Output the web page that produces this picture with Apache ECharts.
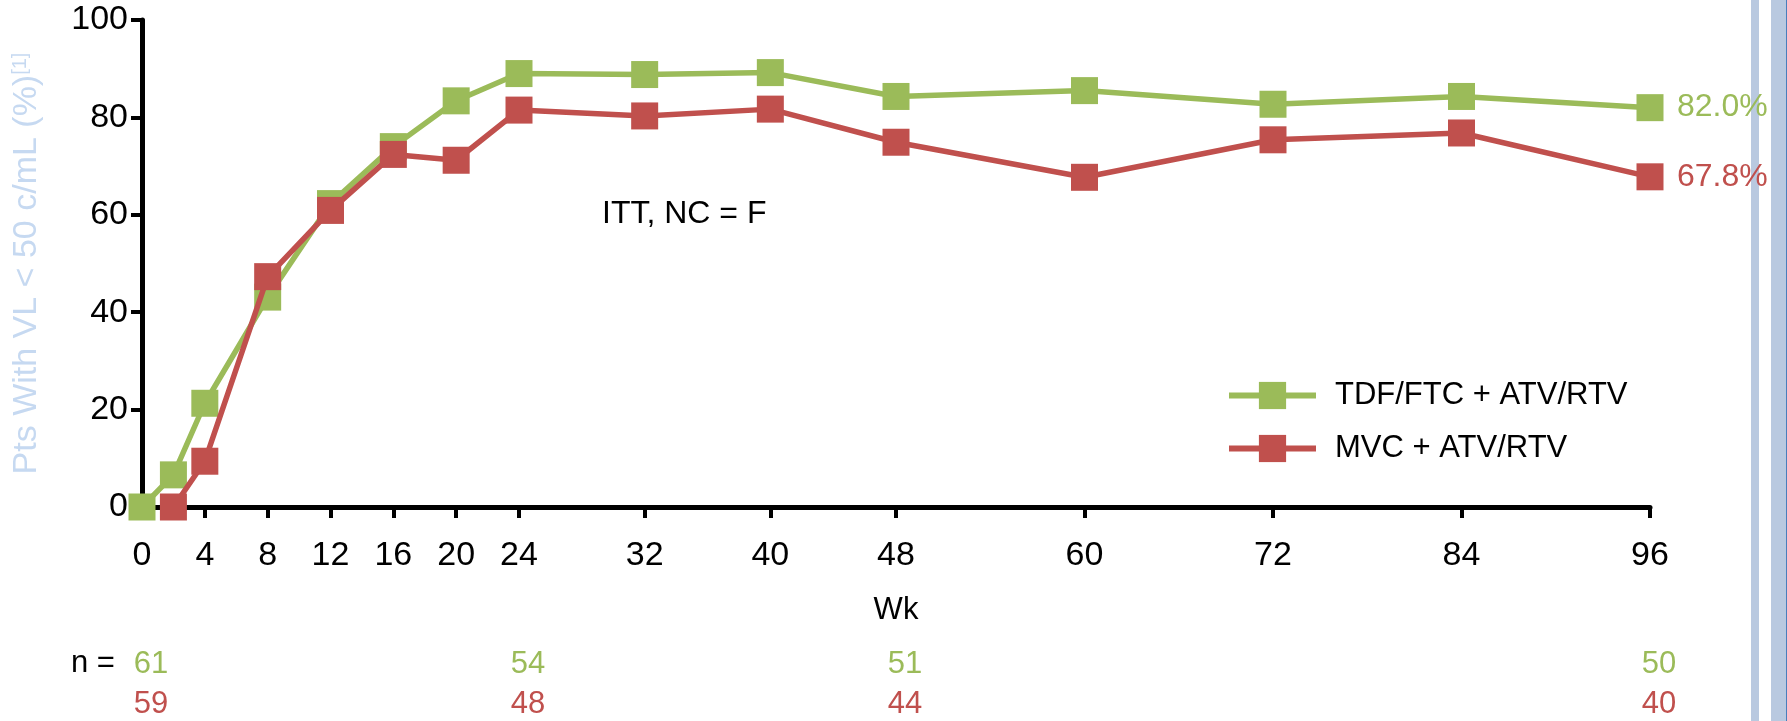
<!DOCTYPE html>
<html>
<head>
<meta charset="utf-8">
<script src="https://cdn.jsdelivr.net/npm/echarts@6/dist/echarts.min.js"></script>
<style>
  html, body { margin: 0; padding: 0; background: #ffffff; }
  #chart { width: 1787px; height: 721px; }
</style>
</head>
<body>
<div id="chart"></div>
<script>
// Week ticks shown on the x axis
const weekTicks = [0, 4, 8, 12, 16, 20, 24, 32, 40, 48, 60, 72, 84, 96];

// TDF/FTC + ATV/RTV arm: % with VL < 50 c/mL by week
const tdfWeeks  = [0, 2, 4, 8, 12, 16, 20, 24, 32, 40, 48, 60, 72, 84, 96];
const tdfValues = [0, 6.6, 21.3, 43.1, 62.3, 74.0, 83.4, 89.0, 88.8, 89.2, 84.3, 85.5, 82.7, 84.3, 82.0];

// MVC + ATV/RTV arm
const mvcWeeks  = [2, 4, 8, 12, 16, 20, 24, 32, 40, 48, 60, 72, 84, 96];
const mvcValues = [0, 9.4, 47.3, 60.9, 72.4, 71.2, 81.5, 80.3, 81.7, 74.9, 67.7, 75.4, 76.8, 67.8];

// Patients remaining at selected weeks
const nWeeks = [0, 24, 48, 96];
const tdfN = [61, 54, 51, 50];
const mvcN = [59, 48, 44, 40];

const seriesNames = ['TDF/FTC + ATV/RTV', 'MVC + ATV/RTV'];

const GREEN = '#9BBB59';
const RED = '#C0504D';
const FONT = 'Liberation Sans';

const pairs = (xs, ys) => xs.map((x, i) => [x, ys[i]]);

const chart = echarts.init(document.getElementById('chart'), null, { renderer: 'canvas' });

const baseX = {
  type: 'value', min: 0, max: 96, position: 'bottom',
  splitLine: { show: false }
};

function nAxis(counts, color, offset) {
  return Object.assign({}, baseX, {
    offset: offset,
    axisLine: { show: false },
    axisTick: { show: false },
    axisLabel: {
      customValues: nWeeks,
      formatter: v => String(counts[nWeeks.indexOf(v)]),
      color: color, fontSize: 31, fontFamily: FONT, margin: 10,
      padding: [0, 0, 0, 18]
    }
  });
}

function lineSeries(name, data, color, z) {
  return {
    name: name, type: 'line', xAxisIndex: 0, yAxisIndex: 0,
    data: data, z: z,
    symbol: 'rect', symbolSize: 27,
    lineStyle: { color: color, width: 5.5 },
    itemStyle: { color: color },
    emphasis: { disabled: true },
    endLabel: {
      show: true, color: color, fontSize: 32, fontFamily: FONT, distance: 27,
      formatter: p => p.value[1].toFixed(1) + '%'
    }
  };
}

chart.setOption({
  animation: false,
  backgroundColor: '#ffffff',
  textStyle: { fontFamily: FONT },
  grid: { left: 142, right: 137, top: 20, bottom: 214, containLabel: false, outerBoundsMode: 'none' },
  xAxis: [
    Object.assign({}, baseX, {
      name: 'Wk', nameLocation: 'middle', nameGap: 88,
      nameTextStyle: { color: '#000', fontSize: 31, fontFamily: FONT },
      axisLine: { show: true, lineStyle: { color: '#000', width: 5 } },
      axisTick: { show: true, customValues: weekTicks, length: 11, lineStyle: { color: '#000', width: 4 } },
      axisLabel: { customValues: weekTicks, color: '#000', fontSize: 34, fontFamily: FONT, margin: 32 }
    }),
    nAxis(tdfN, GREEN, 132),
    nAxis(mvcN, RED, 172)
  ],
  yAxis: {
    type: 'value', min: 0, max: 100, interval: 20,
    name: '{t|Pts With VL < 50 c/mL (%)}{s|[1]}',
    nameLocation: 'middle', nameGap: 98, nameRotate: 90,
    nameTextStyle: {
      rich: {
        t: { color: '#C6D9F1', fontSize: 34, fontFamily: FONT },
        s: { color: '#C6D9F1', fontSize: 20, fontFamily: FONT, verticalAlign: 'top' }
      }
    },
    axisLine: { show: true, lineStyle: { color: '#000', width: 5 } },
    axisTick: { show: true, length: 11, lineStyle: { color: '#000', width: 4 } },
    axisLabel: { color: '#000', fontSize: 34, fontFamily: FONT, margin: 14 },
    splitLine: { show: false }
  },
  legend: {
    orient: 'vertical', left: 1221, top: 375,
    itemWidth: 87, itemHeight: 34, itemGap: 22,
    data: seriesNames,
    lineStyle: { width: 6 },
    textStyle: { color: '#000', fontSize: 31, fontFamily: FONT, padding: [0, 0, 0, 14] },
    selectedMode: false
  },
  series: [
    lineSeries(seriesNames[0], pairs(tdfWeeks, tdfValues), GREEN, 3),
    lineSeries(seriesNames[1], pairs(mvcWeeks, mvcValues), RED, 4)
  ],
  graphic: [
    { type: 'text', left: 602, top: 198, style: { text: 'ITT, NC = F', fill: '#000', fontSize: 32, fontFamily: FONT } },
    { type: 'text', left: 71, top: 648, style: { text: 'n =', fill: '#000', fontSize: 31, fontFamily: FONT } },
    { type: 'rect', left: 1751, top: 0, shape: { width: 8, height: 721 }, style: { fill: '#B9C9E0' } },
    { type: 'rect', left: 1771, top: 0, shape: { width: 15, height: 721 }, style: { fill: '#B9C9E0' } },
    { type: 'rect', left: 1786, top: 0, shape: { width: 1, height: 721 }, style: { fill: '#4A7EBB' } }
  ]
});
</script>
</body>
</html>
